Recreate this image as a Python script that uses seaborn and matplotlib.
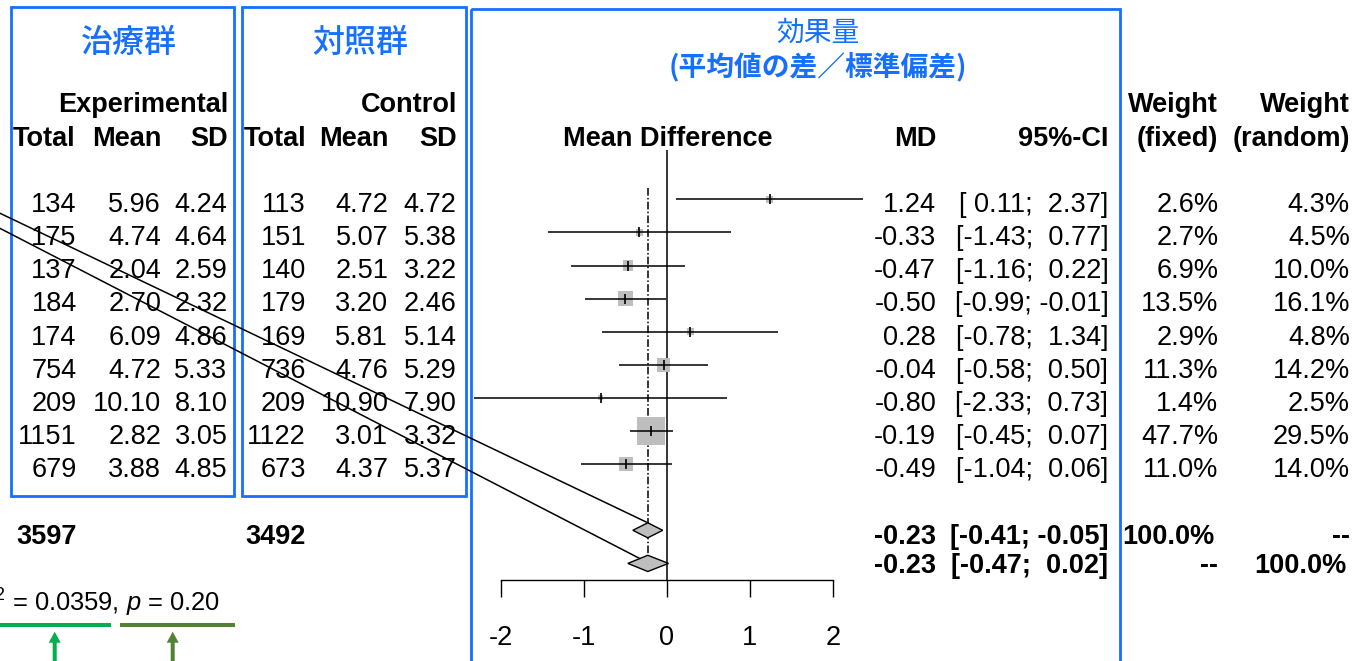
import numpy as np
import matplotlib
matplotlib.use("Agg")
import matplotlib.pyplot as plt
import seaborn as sns
import pandas as pd
from matplotlib.patches import Rectangle, Polygon, ConnectionPatch, FancyArrow

sns.set_theme(style="white")
plt.rcParams["font.family"] = ["Liberation Sans", "DejaVu Sans"]
plt.rcParams["mathtext.fontset"] = "custom"
plt.rcParams["mathtext.rm"] = "Liberation Sans"
plt.rcParams["mathtext.it"] = "Liberation Sans:italic"
plt.rcParams["mathtext.bf"] = "Liberation Sans:bold"

# ---- study data -------------------------------------------------------
exp_total = [134, 175, 137, 184, 174, 754, 209, 1151, 679]
exp_mean = [5.96, 4.74, 2.04, 2.70, 6.09, 4.72, 10.10, 2.82, 3.88]
exp_sd = [4.24, 4.64, 2.59, 2.32, 4.86, 5.33, 8.10, 3.05, 4.85]
ctl_total = [113, 151, 140, 179, 169, 736, 209, 1122, 673]
ctl_mean = [4.72, 5.07, 2.51, 3.20, 5.81, 4.76, 10.90, 3.01, 4.37]
ctl_sd = [4.72, 5.38, 3.22, 2.46, 5.14, 5.29, 7.90, 3.32, 5.37]
md = [1.24, -0.33, -0.47, -0.50, 0.28, -0.04, -0.80, -0.19, -0.49]
ci_lo = [0.11, -1.43, -1.16, -0.99, -0.78, -0.58, -2.33, -0.45, -1.04]
ci_hi = [2.37, 0.77, 0.22, -0.01, 1.34, 0.50, 0.73, 0.07, 0.06]
w_fixed = [2.6, 2.7, 6.9, 13.5, 2.9, 11.3, 1.4, 47.7, 11.0]
w_random = [4.3, 4.5, 10.0, 16.1, 4.8, 14.2, 2.5, 29.5, 14.0]

# pooled estimates: (MD, lower, upper)
fixed_est = (-0.23, -0.41, -0.05)
random_est = (-0.23, -0.47, 0.02)
exp_sum_total = 3597
ctl_sum_total = 3492
tau2 = 0.0359
p_het = 0.20
ticks = [-2, -1, 0, 1, 2]

df = pd.DataFrame({"md": md, "lo": ci_lo, "hi": ci_hi, "w": w_fixed,
                   "row": np.arange(len(md))})

# ---- layout helpers (pixel canvas) -------------------------------------
W, H = 1357, 661
ROW0, DROW = 199.3, 33.1          # pixel y of first study row, row pitch


def row_px(r):
    return ROW0 + DROW * r


def px_row(py):
    return (py - ROW0) / DROW


BLUE = "#1570FF"
FS = 19.5

fig = plt.figure(figsize=(W / 100, H / 100), dpi=100)
fig.patch.set_facecolor("white")
bg = fig.add_axes([0, 0, 1, 1])
bg.set_xlim(0, W)
bg.set_ylim(H, 0)
bg.axis("off")

# blue group frames
for x0, x1, y0, y1 in [(11, 234.3, 7.3, 496), (242.3, 465.7, 7.3, 496),
                       (471, 1120, 9, 720)]:
    bg.add_patch(Rectangle((x0, y0), x1 - x0, y1 - y0, fill=False,
                           edgecolor=BLUE, lw=2.0, clip_on=False))

cjk = ["Noto Sans CJK JP", "DejaVu Sans"]
bg.text(129, 43, "治療群", color=BLUE, fontsize=23, family=cjk,
        weight="medium", ha="center", va="center")
bg.text(360, 43, "対照群", color=BLUE, fontsize=23, family=cjk,
        weight="medium", ha="center", va="center")
bg.text(817.5, 33, "効果量", color=BLUE, fontsize=20, family=cjk,
        ha="center", va="center")
bg.text(817.5, 67, "(平均値の差／標準偏差)", color=BLUE, fontsize=20,
        family=cjk, weight="bold", ha="center", va="center")

# column headers
B1, B2 = 111.5, 146
hdr = dict(fontsize=FS, weight="bold", va="baseline", color="black")
bg.text(228, B1, "Experimental", ha="right", **hdr)
bg.text(13, B2, "Total", ha="left", **hdr)
bg.text(161, B2, "Mean", ha="right", **hdr)
bg.text(228, B2, "SD", ha="right", **hdr)
bg.text(457, B1, "Control", ha="right", **hdr)
bg.text(244, B2, "Total", ha="left", **hdr)
bg.text(388.3, B2, "Mean", ha="right", **hdr)
bg.text(457, B2, "SD", ha="right", **hdr)
bg.text(667.5, B2, "Mean Difference", ha="center", **hdr)
bg.text(936, B2, "MD", ha="right", **hdr)
bg.text(1108.3, B2, "95%-CI", ha="right", **hdr)
bg.text(1218.3, B1, "Weight", ha="right", **hdr)
bg.text(1218.3, B2, "(fixed)", ha="right", **hdr)
bg.text(1350, B1, "Weight", ha="right", **hdr)
bg.text(1350, B2, "(random)", ha="right", **hdr)

# study rows
cols = [76.7, 161, 227.3, 306, 388.3, 456.7, 936, 1108.3, 1218.3, 1350]
txt = dict(fontsize=FS, va="baseline", ha="right", color="black")
for i in range(len(md)):
    y = row_px(i) + 12.8
    vals = [f"{exp_total[i]}", f"{exp_mean[i]:.2f}", f"{exp_sd[i]:.2f}",
            f"{ctl_total[i]}", f"{ctl_mean[i]:.2f}", f"{ctl_sd[i]:.2f}",
            f"{md[i]:.2f}", f"[{ci_lo[i]:5.2f}; {ci_hi[i]:5.2f}]",
            f"{w_fixed[i]:.1f}%", f"{w_random[i]:.1f}%"]
    for x, s in zip(cols, vals):
        bg.text(x, y, s, **txt)

# pooled rows
bold = dict(txt, weight="bold")
yf, yr = 543.5, 573
bg.text(76.7, yf, f"{exp_sum_total}", **bold)
bg.text(306, yf, f"{ctl_sum_total}", **bold)
bg.text(936, yf, f"{fixed_est[0]:.2f}", **bold)
bg.text(1108.3, yf, f"[{fixed_est[1]:5.2f}; {fixed_est[2]:5.2f}]", **bold)
bg.text(1215, yf, "100.0%", **bold)
bg.text(1350, yf, "--", **bold)
bg.text(936, yr, f"{random_est[0]:.2f}", **bold)
bg.text(1108.3, yr, f"[{random_est[1]:5.2f}; {random_est[2]:5.2f}]", **bold)
bg.text(1218.3, yr, "--", **bold)
bg.text(1347, yr, "100.0%", **bold)

# heterogeneity note with highlight bars and arrows
bg.text(220, 611.7, rf"$\tau^2$ = {tau2:.4f}, $p$ = {p_het:.2f}",
        fontsize=18.4, ha="right", va="baseline", color="black")
G1, G2 = "#00B050", "#548235"
bg.plot([0, 110.7], [625, 625], color=G1, lw=2.9, solid_capstyle="butt")
bg.plot([120, 234.7], [625, 625], color=G2, lw=2.9, solid_capstyle="butt")
for x, c in [(54.7, G1), (172.7, G2)]:
    bg.add_patch(FancyArrow(x, 680, 0, -48.3, width=4.0, head_width=12,
                            head_length=11, length_includes_head=True,
                            color=c, lw=0, clip_on=False))

# ---- forest panel -------------------------------------------------------
PX_M2, PX_P2 = 501.0, 832.7
AX_TOP, AX_BOT = 150.0, 580.0
ax = fig.add_axes([PX_M2 / W, (H - AX_BOT) / H, (PX_P2 - PX_M2) / W,
                   (AX_BOT - AX_TOP) / H])
ax.patch.set_alpha(0)
ax.set_xlim(ticks[0], ticks[-1])
ax.set_ylim(px_row(AX_BOT), px_row(AX_TOP))
for s in ["top", "left", "right"]:
    ax.spines[s].set_visible(False)
ax.spines["bottom"].set_color("black")
ax.spines["bottom"].set_linewidth(1.0)
ax.set_xticks(ticks)
ax.set_xticklabels([f"{t}" for t in ticks])
ax.tick_params(axis="x", direction="out", length=12.2, width=1.0,
               color="black", labelsize=FS, pad=20, labelcolor="black",
               bottom=True)
ax.set_yticks([])

# line of no effect
ax.axvline(0, color="black", lw=1.1, zorder=2)

# pooled-estimate reference line
dh_f, dh_r = 0.227, 0.245
ax.plot([random_est[0]] * 2, [px_row(188), 11 - dh_r], color="black",
        lw=1.1, ls=(0, (5, 1.5, 1, 1.5)), zorder=2, clip_on=False)

# weight squares (area proportional to fixed-effect weight)
kside = 8.6
sns.scatterplot(data=df, x="md", y="row", size="w",
                sizes=(kside * min(w_fixed), kside * max(w_fixed)),
                marker="s", color="#BEBEBE", linewidth=0, legend=False,
                ax=ax, zorder=3, clip_on=False)
ax.set_xlabel("")
ax.set_ylabel("")
# confidence intervals and point marks
ax.hlines(df["row"], df["lo"], df["hi"], color="black", lw=1.1, zorder=4,
          clip_on=False)
ax.scatter(df["md"], df["row"], marker="|", s=44, color="black",
           linewidths=1.2, zorder=5, clip_on=False)

# pooled diamonds
for est, r, dh in [(fixed_est, 10, dh_f), (random_est, 11, dh_r)]:
    m, lo, hi = est
    ax.add_patch(Polygon([(lo, r), (m, r - dh), (hi, r), (m, r + dh)],
                         closed=True, facecolor="#BEBEBE", edgecolor="black",
                         lw=1.0, zorder=5, clip_on=False))

# pointer lines to the pooled diamonds
m, lo, hi = random_est
t = 0.6
end_r = (lo + t * (m - lo), 11 - t * dh_r)
for (x0, y0, slope), end in [((0, 213.3, 0.479), (fixed_est[0], 10 - dh_f)),
                             ((0, 228.3, 0.514), end_r)]:
    xs = -30
    con = ConnectionPatch(xyA=(xs, y0 + slope * (xs - x0)), coordsA=bg.transData,
                          xyB=end, coordsB=ax.transData, color="black",
                          lw=1.1, zorder=6)
    fig.add_artist(con)

fig.savefig("out.png", dpi=100, facecolor="white")
